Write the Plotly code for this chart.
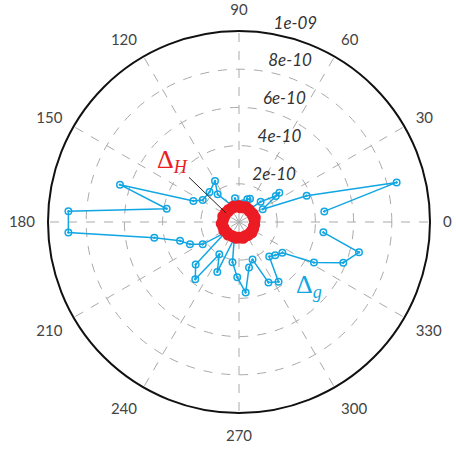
import plotly.graph_objects as go

# Delta_g series (angle in degrees, radius in units of 1e-10)
g_theta = [7.1, 14.1, 21.2, 28.2, 36.0, 35.3, 43.1, 50, 57, 64.7, 69.9, 77.0, 85, 92,
           99.6, 103, 112, 127.6, 120.3, 134.5, 148.8, 155.3, 162.6, 169.6, 176.4,
           183.5, 190.5, 197.6, 204.5, 211.6, 217.4, 224.5, 232.6, 238.6, 246.5, 254,
           260.8, 268.2, 275.4, 282.4, 289.8, 296, 303.5, 311.2, 317.5, 324.7, 331.6,
           338.7, 345.8, 353.0]
g_r = [4.50, 8.51, 3.80, 1.41, 2.61, 2.36, 1.55, 0.90, 0.90, 1.35, 1.27, 1.01, 0.90, 0.90,
       1.26, 0.92, 0.90, 1.83, 2.49, 2.20, 2.22, 2.63, 6.53, 3.85, 8.95,
       8.95, 4.51, 3.24, 2.82, 2.23, 0.92, 3.18, 3.77, 1.98, 2.85, 0.90,
       2.13, 2.90, 3.71, 2.44, 2.09, 3.52, 3.75, 2.40, 2.57, 2.78, 4.46,
       5.86, 6.48, 4.45]

# Delta_H series (every 5 degrees, units of 1e-10)
h_theta = list(range(0, 365, 5))
h_r = [0.80, 0.85, 0.78, 0.90, 0.82, 0.76, 0.88, 0.80, 0.84, 0.75, 0.86, 0.79, 0.83, 0.90,
       0.77, 0.85, 0.80, 0.74, 0.88, 0.82, 0.79, 0.86, 0.91, 0.78, 0.84, 0.80, 0.87, 0.76,
       0.83, 0.89, 0.81, 0.78, 0.92, 0.85, 0.80, 0.88, 0.83, 0.95, 0.86, 0.90, 0.82, 0.88,
       0.93, 0.84, 0.80, 0.87, 0.91, 0.83, 0.78, 0.86, 0.82, 0.79, 0.88, 0.84, 0.77, 0.85,
       0.81, 0.89, 0.80, 0.76, 0.84, 0.87, 0.79, 0.83, 0.90, 0.78, 0.82, 0.86, 0.80, 0.77,
       0.85, 0.80, 0.80]

r_tickvals = [2e-10, 4e-10, 6e-10, 8e-10, 1e-9]
r_ticktext = ["2e-10", "4e-10", "6e-10", "8e-10", "1e-09"]
r_label_angle = 82
a_tickvals = list(range(0, 360, 30))
a_ticktext = [str(v) for v in a_tickvals]

BLUE = "#12a6e2"
RED = "#ec1c24"

fig = go.Figure()
fig.add_trace(go.Scatterpolar(
    r=[v * 1e-10 for v in g_r], theta=g_theta, mode="lines+markers",
    line=dict(color=BLUE, width=1.5),
    marker=dict(symbol="circle-open-dot", size=6.5, color=BLUE, line=dict(width=1.5)),
    showlegend=False))
fig.add_trace(go.Scatterpolar(
    r=[v * 1e-10 for v in h_r], theta=h_theta, mode="lines+markers",
    line=dict(color=RED, width=4),
    marker=dict(symbol="circle-open", size=8, color=RED, line=dict(width=2.5)),
    showlegend=False))
# radial tick labels (horizontal, italic) placed at the tick radii
fig.add_trace(go.Scatterpolar(
    r=r_tickvals, theta=[r_label_angle] * len(r_tickvals), mode="text",
    text=["\u00a0\u00a0" + t for t in r_ticktext], textposition="top right", cliponaxis=False,
    textfont=dict(family="Lato", size=17, color="#333", style="italic"),
    showlegend=False, hoverinfo="skip"))

fig.update_layout(
    width=456, height=450,
    margin=dict(l=48, r=26, t=31, b=37),
    paper_bgcolor="white",
    font=dict(family="Lato", size=15, color="#444"),
    polar=dict(
        bgcolor="white",
        radialaxis=dict(range=[0, 1e-9], tickvals=r_tickvals, showticklabels=False,
                        showline=False, ticks="", angle=r_label_angle,
                        gridcolor="#aaaaaa", griddash="dash", gridwidth=1.2),
        angularaxis=dict(tickvals=a_tickvals, ticktext=a_ticktext, direction="counterclockwise",
                         rotation=0, showline=True, linecolor="#111", linewidth=2,
                         ticks="outside", ticklen=9, tickcolor="rgba(0,0,0,0)",
                         gridcolor="#aaaaaa", griddash="dash", gridwidth=1.2,
                         tickfont=dict(family="Lato", size=15, color="#444")),
    ),
    annotations=[
        dict(x=(226 - 48) / 382, y=(413 - 213) / 382, xref="paper", yref="paper",
             text="Δ<sub><i>H</i></sub>", showarrow=True, arrowhead=0, arrowwidth=1,
             arrowcolor="#222", ax=-54, ay=-52,
             font=dict(family="Liberation Serif", size=26, color=RED)),
        dict(x=(309 - 48) / 382, y=(413 - 286) / 382, xref="paper", yref="paper",
             xanchor="center", yanchor="middle",
             text="Δ<sub><i>g</i></sub>", showarrow=False,
             font=dict(family="Liberation Serif", size=26, color=BLUE)),
    ],
)

fig.write_html("out.html", config={"displayModeBar": False},
               post_script="document.body.style.margin='0';")
